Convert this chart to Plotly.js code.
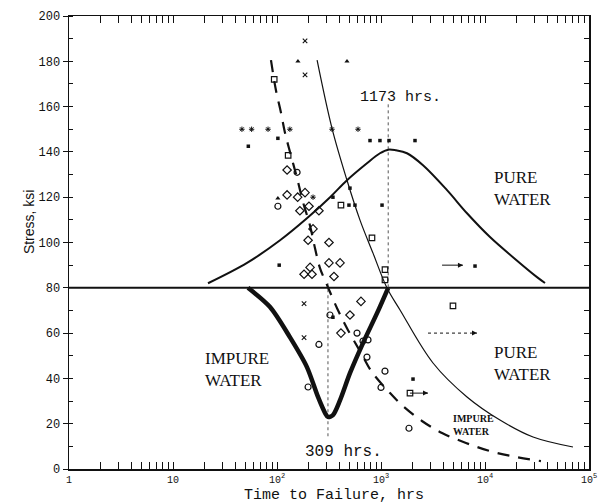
<!DOCTYPE html>
<html><head><meta charset="utf-8">
<script src="https://cdn.plot.ly/plotly-3.0.1.min.js"></script>
<style>html,body{margin:0;padding:0;background:#fff}#chart{width:599px;height:503px}</style>
</head><body><div id="chart"></div>
<script>
// ---- curves (hours, ksi) ----
const pureUpperT = [21.7, 51.5, 107, 194, 324, 471, 733, 977, 1173, 1393, 1778, 2535, 4315, 6714, 11170, 18580, 31620, 37760];
const pureUpperS = [82, 91, 101, 110.7, 120, 127.5, 135, 139.4, 141, 140.7, 139.4, 134.1, 123.1, 112.9, 102.4, 93.5, 84.7, 82.1];

const impureVT = [52.6, 85.7, 133, 194, 248, 290, 309, 345, 404, 504, 671, 916, 1173];
const impureVS = [80, 71.5, 58.2, 45, 31.8, 24.7, 23, 23.8, 30.4, 42.4, 55.6, 68.8, 80];

const pureLowerT = [243, 338, 471, 628, 838, 1143, 1524, 3162, 6714, 13930, 28970, 70150];
const pureLowerS = [180.5, 150.4, 127.5, 109.9, 95.3, 79.9, 70.2, 46.8, 31.8, 21.6, 14.1, 9.7];

const impureDashT = [87.5, 97.7, 109, 119, 136, 156, 178, 207, 232, 259, 303, 378, 482, 643, 818, 1222, 1592, 2477, 3864, 6561, 11170, 19860, 34510];
const impureDashS = [180.5, 167.2, 157.5, 148.7, 138.5, 128.4, 117.8, 107.7, 97.5, 88.7, 81.2, 71, 61.3, 51.2, 42.8, 33.5, 28.2, 21.2, 15.9, 11.5, 7.9, 5.3, 3.5];

const thresholdT = [1, 100000];
const thresholdS = [80, 80];
const mark1173T = [1173, 1173];
const mark1173S = [161, 80];
const mark309T = [309, 309];
const mark309S = [82, 14];

// ---- data points ----
const diamondT = [125, 125, 186, 166, 203, 253, 222, 199, 316, 208, 182, 217, 316, 404, 353, 642, 503, 412, 158];
const diamondS = [132, 121, 122, 114, 116, 114, 106, 101, 100, 89, 86, 86, 91, 91, 85, 74, 68, 60, 120];

const circleT = [102, 156, 323, 253, 588, 671, 750, 733, 1092, 199, 1000, 1858];
const circleS = [116, 131, 68, 55, 60, 56.5, 57, 49.4, 43.2, 36.2, 36, 18];

const squareT = [94, 128, 412, 819, 1092, 1092, 4921, 1900];
const squareS = [172, 138.5, 116.5, 102, 88, 83.5, 72, 33.5];

const filledT = [53, 102, 492, 562, 1023, 503, 784, 977, 1194, 2123, 2032, 105, 8017, 345, 345];
const filledS = [142.5, 146, 116.5, 116.5, 116.5, 124, 145, 145, 145, 145, 39.7, 90, 89.6, 67, 120];

const plusT = [46, 57, 82, 133, 338, 601, 222];
const plusS = [150, 150, 150, 150, 150, 150, 120];

const triT = [159, 471, 102];
const triS = [180, 180, 119.5];

const crossT = [186, 186, 182, 182];
const crossS = [189, 174, 73, 58];

// run-outs (start hours, end hours, ksi)
const runStartT = [3864, 2831, 1900];
const runEndT = [6138, 8375, 2831];
const runS = [90, 60, 33.5];

// ---- axis labels ----
const xTickVals = [1, 10, 100, 1000, 10000, 100000];
const xTickText = ['1', '10', '10<sup>2</sup>', '10<sup>3</sup>', '10<sup>4</sup>', '10<sup>5</sup>'];

const K = '#111';
const traces = [];
function line(x, y, w, dash, extra) {
  return Object.assign({x: x, y: y, mode: 'lines', type: 'scatter', hoverinfo: 'skip', showlegend: false,
    line: {color: K, width: w, dash: dash || 'solid'}}, extra || {});
}
traces.push(line(thresholdT, thresholdS, 2, 'solid', {cliponaxis: false}));
traces.push(line(mark1173T, mark1173S, 1, 'dot', {line: {color: '#555', width: 1, dash: 'dot'}}));
traces.push(line(mark309T, mark309S, 1, 'dot', {line: {color: '#555', width: 1, dash: 'dot'}}));
traces.push(line(pureUpperT, pureUpperS, 2, 'solid', {line: {color: K, width: 2, shape: 'spline', smoothing: 1}}));
traces.push(line(pureLowerT, pureLowerS, 1.2, 'solid', {line: {color: K, width: 1.2, shape: 'spline', smoothing: 1}}));
traces.push(line(impureVT, impureVS, 4.5, 'solid', {line: {color: K, width: 4.5, shape: 'spline', smoothing: 0.8}}));
traces.push(line(impureDashT, impureDashS, 2.2, 'solid', {line: {color: K, width: 2.2, dash: '12px,9px', shape: 'spline', smoothing: 1}}));

for (let i = 0; i < runS.length; i++) {
  traces.push(line([runStartT[i], runEndT[i]], [runS[i], runS[i]], 1, 'solid', {line: {color: K, width: 1, dash: i === 1 ? 'dot' : 'solid'}}));
}

function pts(x, y, symbol, size, lw) {
  return {x: x, y: y, mode: 'markers', type: 'scatter', hoverinfo: 'skip', showlegend: false,
    marker: {symbol: symbol, size: size, color: K, line: {color: K, width: lw}}};
}
traces.push(pts(diamondT, diamondS, 'diamond-open', 6.5, 1.2));
traces.push(pts(circleT, circleS, 'circle-open', 6, 1.2));
traces.push(pts(squareT, squareS, 'square-open', 5.5, 1.2));
traces.push(pts(filledT, filledS, 'square', 3.5, 0));
traces.push(pts(plusT, plusS, 'asterisk-open', 4.5, 1));
traces.push(pts(triT, triS, 'triangle-up', 4.5, 0));
traces.push(pts(crossT, crossS, 'x-thin-open', 4.5, 1.1));
// right-side mirror axis carrier
traces.push({x: [], y: [], type: 'scatter', mode: 'markers', yaxis: 'y2', showlegend: false, hoverinfo: 'skip'});

// minor x ticks (2..9 in every decade)
const xMinor = [];
for (let d = 0; d < 5; d++) for (let m = 2; m <= 9; m++) xMinor.push(m * Math.pow(10, d));

const annotations = [];
for (let i = 0; i < runS.length; i++) {
  annotations.push({x: Math.log10(runEndT[i]), y: runS[i], ax: Math.log10(runEndT[i]) - 0.06, ay: runS[i],
    xref: 'x', yref: 'y', axref: 'x', ayref: 'y', text: '', showarrow: true, arrowhead: 2, arrowsize: 1, arrowwidth: 1, arrowcolor: K});
}
const serif = 'Liberation Serif, Times New Roman, serif';
const mono = 'Liberation Mono, Courier New, monospace';
annotations.push({x: Math.log10(1173) + 0.12, y: 164, xref: 'x', yref: 'y', text: '1173 hrs.', showarrow: false, font: {family: mono, size: 15, color: K}});
annotations.push({x: Math.log10(309) + 0.15, y: 7.5, xref: 'x', yref: 'y', text: '309 hrs.', showarrow: false, font: {family: mono, size: 16, color: K}});
annotations.push({x: 4.365, y: 124, xref: 'x', yref: 'y', text: 'PURE<br>WATER', showarrow: false, align: 'left', font: {family: serif, size: 17, color: K}});
annotations.push({x: 4.356, y: 46.5, xref: 'x', yref: 'y', text: 'PURE<br>WATER', showarrow: false, align: 'left', font: {family: serif, size: 17, color: K}});
annotations.push({x: 1.615, y: 44, xref: 'x', yref: 'y', text: 'IMPURE<br>WATER', showarrow: false, align: 'left', font: {family: serif, size: 17, color: K}});
annotations.push({x: 3.894, y: 19.5, xref: 'x', yref: 'y', text: '<b>IMPURE<br>WATER</b>', showarrow: false, align: 'left', font: {family: serif, size: 10, color: K}});
annotations.push({x: 0, y: 0.545, xref: 'paper', yref: 'paper', xshift: -50, text: 'Stress, ksi', textangle: -90, showarrow: false, font: {family: 'Liberation Sans, Arial, sans-serif', size: 14, color: K}});
annotations.push({x: 0.51, y: 0, xref: 'paper', yref: 'paper', yshift: -26, yanchor: 'middle', text: 'Time to Failure, hrs', showarrow: false, font: {family: mono, size: 15, color: K}});

const layout = {
  width: 599, height: 503,
  margin: {l: 69, r: 10, t: 16, b: 34},
  paper_bgcolor: '#fff', plot_bgcolor: '#fff',
  showlegend: false,
  xaxis: {type: 'log', range: [0, 5], tickmode: 'array', tickvals: xTickVals, ticktext: xTickText,
    ticks: 'inside', ticklen: 7, tickcolor: K, tickwidth: 1, showgrid: false, zeroline: false,
    showline: true, linecolor: K, linewidth: 1.5, mirror: 'allticks',
    minor: {tickmode: 'array', tickvals: xMinor, ticks: 'inside', ticklen: 4, tickcolor: K, showgrid: false},
    tickfont: {family: mono, size: 10, color: K}, ticklabelstandoff: 0},
  yaxis: {range: [0, 200], dtick: 20, ticks: 'outside', ticklen: 5, tickcolor: K, showgrid: false, zeroline: false,
    showline: true, linecolor: K, linewidth: 1.5,
    minor: {dtick: 10, ticks: 'inside', ticklen: 4, tickcolor: K, showgrid: false},
    tickfont: {family: mono, size: 12, color: K}},
  yaxis2: {range: [0, 200], overlaying: 'y', side: 'right', dtick: 10, ticks: 'inside', ticklen: 5, tickcolor: K,
    showticklabels: false, showgrid: false, zeroline: false, showline: true, linecolor: K, linewidth: 1.5},
  annotations: annotations
};

Plotly.newPlot('chart', traces, layout, {displayModeBar: false, staticPlot: true});
</script>
</body></html>
